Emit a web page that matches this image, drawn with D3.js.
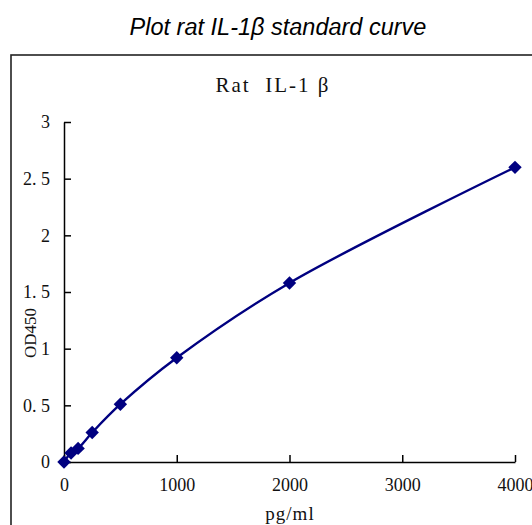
<!DOCTYPE HTML>
<html>
	<head>
		<title>Rat IL-1β standard curve</title>
		<meta charset="UTF8">
		<script src="https://d3js.org/d3.v7.min.js"></script>
		<style>
			body
			{
				margin: 0;
				padding: 0;
				background: white;
			}
			.tick text
			{
				font-family: "Liberation Serif", "Times New Roman", serif;
				font-size: 18px;
				fill: #111;
			}
			.lbl
			{
				font-family: "Liberation Serif", "Times New Roman", serif;
				fill: #111;
			}
		</style>
	</head>
	<body>
		<svg></svg>
	</body>
	<script>
		// standards (pg/ml) and their OD450 readings
		const conc = [0, 62.5, 125, 250, 500, 1000, 2000, 4000];
		const od = [0, 0.08, 0.12, 0.26, 0.51, 0.92, 1.58, 2.60];
		const xTicks = [0, 1000, 2000, 3000, 4000];
		const yTicks = [0, 0.5, 1, 1.5, 2, 2.5, 3];

		const w = 532;
		const h = 525;

		const svg = d3.select('svg')
			.attr("width", w)
			.attr("height", h);

		svg.append("text")
			.attr("x", 278)
			.attr("y", 35)
			.attr("text-anchor", "middle")
			.style("font-family", "'Liberation Sans', Arial, sans-serif")
			.style("font-style", "italic")
			.style("font-size", "23.5px")
			.text("Plot rat IL-1β standard curve");

		// chart frame, runs off the right and bottom edges
		svg.append("rect")
			.attr("x", 11)
			.attr("y", 55)
			.attr("width", 540)
			.attr("height", 490)
			.attr("fill", "white")
			.attr("stroke", "#222")
			.attr("stroke-width", 1.6);

		const x = d3.scaleLinear().domain([0, 4000]).range([64, 515]);
		const y = d3.scaleLinear().domain([0, 3]).range([462, 122]);

		// the source font puts a wide gap after the decimal point
		const fmt = d => String(d).replace(".", ". ");

		const xAxis = d3.axisBottom(x).tickValues(xTicks).tickSizeInner(-7).tickSizeOuter(0).tickPadding(16).tickFormat(fmt);
		const yAxis = d3.axisLeft(y).tickValues(yTicks).tickSizeInner(-7).tickSizeOuter(0).tickPadding(14).tickFormat(fmt);

		svg.append("g")
			.attr("transform", "translate(0," + y(0) + ")")
			.call(xAxis)
			.call(g => g.select(".domain").attr("stroke-width", 1.5))
			.call(g => g.selectAll(".tick line").attr("stroke-width", 1.5));

		svg.append("g")
			.attr("transform", "translate(" + x(0) + ",0)")
			.call(yAxis)
			.call(g => g.select(".domain").attr("stroke-width", 1.5))
			.call(g => g.selectAll(".tick line").attr("stroke-width", 1.5))
			.call(g => g.selectAll(".tick text").style("white-space", "pre"));

		svg.append("text")
			.attr("class", "lbl")
			.attr("x", 273)
			.attr("y", 92)
			.attr("text-anchor", "middle")
			.style("font-size", "21px")
			.style("letter-spacing", "2px")
			.style("white-space", "pre")
			.text("Rat  IL-1 β");

		svg.append("text")
			.attr("class", "lbl")
			.attr("x", 290)
			.attr("y", 520)
			.attr("text-anchor", "middle")
			.style("font-size", "19px")
			.style("letter-spacing", "1px")
			.text("pg/ml");

		svg.append("text")
			.attr("class", "lbl")
			.attr("transform", "translate(36,333) rotate(-90)")
			.attr("text-anchor", "middle")
			.style("font-size", "17px")
			.text("OD450");

		const pts = conc.map((c, i) => [c, od[i]]);

		const line = d3.line()
			.x(d => x(d[0]))
			.y(d => y(d[1]))
			.curve(d3.curveCatmullRom.alpha(0.5));

		svg.append("path")
			.datum(pts)
			.attr("d", line)
			.attr("fill", "none")
			.attr("stroke", "#000080")
			.attr("stroke-width", 2.4);

		svg.selectAll(".pt")
			.data(pts)
			.enter()
			.append("path")
			.attr("class", "pt")
			.attr("d", d3.symbol().type(d3.symbolSquare).size(90))
			.attr("transform", d => "translate(" + x(d[0]) + "," + y(d[1]) + ") rotate(45)")
			.attr("fill", "#000080");
	</script>
</html>
